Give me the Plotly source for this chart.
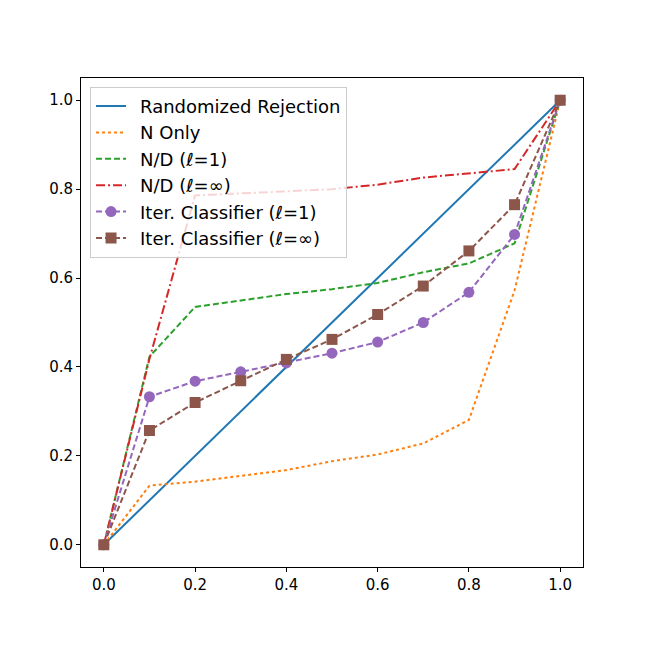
import plotly.graph_objects as go

# Tab10 colours, as in the original matplotlib figure
BLUE = "#1f77b4"
ORANGE = "#ff7f0e"
GREEN = "#2ca02c"
RED = "#d62728"
PURPLE = "#9467bd"
BROWN = "#8c564b"

# ── Data ──────────────────────────────────────────────────────────────────────
X = [0.0, 0.1, 0.2, 0.3, 0.4, 0.5, 0.6, 0.7, 0.8, 0.9, 1.0]
X_DIAG = [0.0, 1.0]
Y_DIAG = [0.0, 1.0]

N_ONLY = [0.0, 0.133, 0.142, 0.155, 0.168, 0.188, 0.203, 0.228, 0.281, 0.572, 1.0]
ND_L1 = [0.0, 0.423, 0.535, 0.550, 0.564, 0.575, 0.589, 0.613, 0.633, 0.678, 1.0]
ND_LINF = [0.0, 0.418, 0.786, 0.790, 0.795, 0.800, 0.810, 0.826, 0.836, 0.845, 1.0]
ITER_L1 = [0.0, 0.333, 0.368, 0.389, 0.409, 0.431, 0.456, 0.500, 0.568, 0.698, 1.0]
ITER_LINF = [0.0, 0.257, 0.320, 0.369, 0.417, 0.462, 0.518, 0.582, 0.661, 0.765, 1.0]

TICKS = [0.0, 0.2, 0.4, 0.6, 0.8, 1.0]
TICK_TEXT = ["0.0", "0.2", "0.4", "0.6", "0.8", "1.0"]

PAD = "\u2002"  # widen the gap between legend sample and label, like matplotlib

fig = go.Figure()

fig.add_trace(go.Scatter(
    x=X_DIAG, y=Y_DIAG, name=PAD + "Randomized Rejection", mode="lines",
    line=dict(color=BLUE, width=2),
))
fig.add_trace(go.Scatter(
    x=X, y=N_ONLY, name=PAD + "N Only", mode="lines",
    line=dict(color=ORANGE, width=2, dash="dot"),
))
fig.add_trace(go.Scatter(
    x=X, y=ND_L1, name=PAD + "N/D (ℓ=1)", mode="lines",
    line=dict(color=GREEN, width=2, dash="6px,3px"),
))
fig.add_trace(go.Scatter(
    x=X, y=ND_LINF, name=PAD + "N/D (ℓ=∞)", mode="lines",
    line=dict(color=RED, width=2, dash="9px,3px,2px,3px"),
))
fig.add_trace(go.Scatter(
    x=X, y=ITER_L1, name=PAD + "Iter. Classifier (ℓ=1)", mode="lines+markers",
    line=dict(color=PURPLE, width=2, dash="6px,3px"),
    marker=dict(symbol="circle", size=11, color=PURPLE),
))
fig.add_trace(go.Scatter(
    x=X, y=ITER_LINF, name=PAD + "Iter. Classifier (ℓ=∞)", mode="lines+markers",
    line=dict(color=BROWN, width=2, dash="6px,3px"),
    marker=dict(symbol="square", size=11, color=BROWN),
))

axis_style = dict(
    range=[-0.05, 1.05],
    tickvals=TICKS, ticktext=TICK_TEXT,
    showgrid=False, zeroline=False,
    showline=True, linecolor="black", linewidth=1, mirror=True,
    ticks="outside", ticklen=4, tickcolor="black",
    tickfont=dict(size=15, color="black"),
)

# page body adds an 8px offset, so margins are shifted to compensate
fig.update_layout(
    width=648, height=648,
    paper_bgcolor="white", plot_bgcolor="white",
    font=dict(family="DejaVu Sans", color="black"),
    margin=dict(l=73, r=73, t=70, b=89),
    xaxis=axis_style,
    yaxis=axis_style,
    showlegend=True,
    legend=dict(
        x=0.018, y=0.982, xanchor="left", yanchor="top",
        bgcolor="rgba(255,255,255,0.8)", bordercolor="#cccccc", borderwidth=1,
        font=dict(size=18, color="black"),
        tracegroupgap=0,
    ),
)

fig.write_html("out.html")
